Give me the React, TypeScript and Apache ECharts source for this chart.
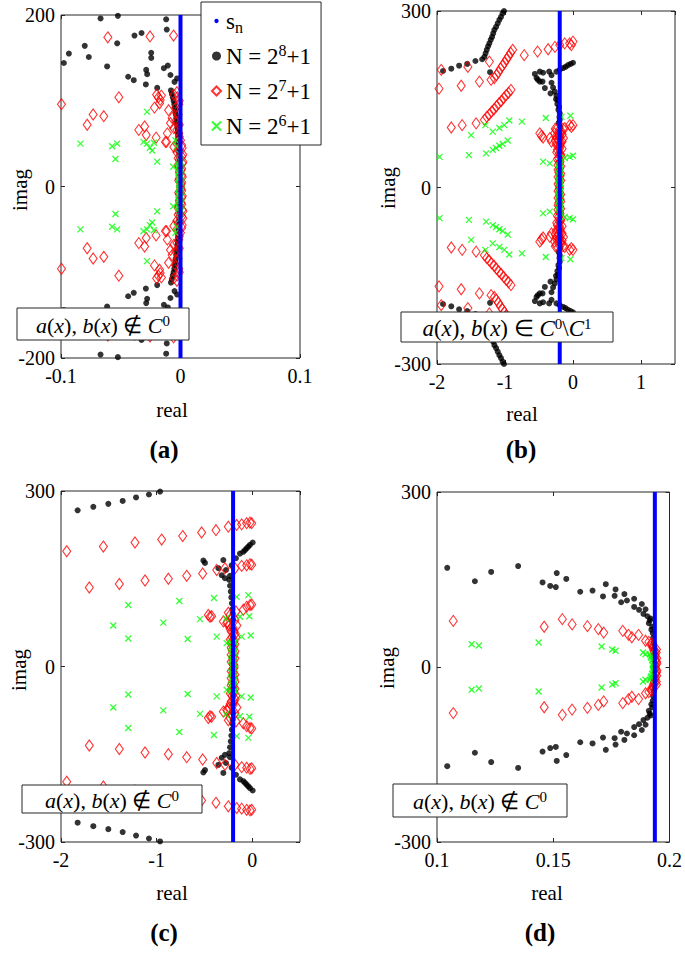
import React, { useEffect, useRef } from "react";
import * as echarts from "echarts";

const FONT = "Liberation Serif";

// ---------- axis values ----------
const xMin = [-0.1, -2, -2, 0.1];
const xMax = [0.1, 1.5, 0.5, 0.2];
const xStep = [0.1, 1, 1, 0.05];
const yMin = [-200, -300, -300, -300];
const yMax = [200, 300, 300, 300];
const yStep = [200, 300, 300, 300];
const panelLabels = ["(a)", "(b)", "(c)", "(d)"];
const seriesNames = ["s_n", "N8", "N7", "N6"];

// s_n : real part of the (dense, vertical) set of exact eigenvalues per panel
const snReal = [0, -0.195, -0.2, 0.1937];

// ---------- panel (a) ----------
const aBlack = [
  [-0.0669,196],[-0.0524,199],[-0.012,195],[-0.0115,183],[-0.0976,144],[-0.0934,155],[-0.0801,164],[-0.0767,151],[-0.053,167],[-0.0614,140],[-0.0438,128],[-0.0391,124],[-0.0385,176],[-0.0326,179],[-0.0287,136],[-0.0279,131],[-0.0245,156],[-0.0245,150],[-0.029,119],[-0.0139,138],[-0.0106,141],[-0.0084,130],[-0.0195,115],[-0.005,122],[-0.0028,126],
  [-0.008,112],[-0.0072,108],[-0.0065,104],[-0.0058,100],[-0.0052,96],[-0.0047,92],[-0.0043,88],[-0.0039,84],[-0.0035,80],[-0.0032,76],[-0.0029,72],[-0.0026,68],[-0.0023,64],[-0.0021,60],[-0.0019,56],[-0.0017,52],[-0.0015,48],[-0.0013,44],[-0.0012,40],[-0.001,36],[-0.0009,32],[-0.0008,28],[-0.0007,24],[-0.0006,20],
  [-0.0669,-196],[-0.0524,-199],[-0.012,-195],[-0.0115,-183],[-0.0976,-144],[-0.0934,-155],[-0.0801,-164],[-0.0767,-151],[-0.053,-167],[-0.0614,-140],[-0.0438,-128],[-0.0391,-124],[-0.0385,-176],[-0.0326,-179],[-0.0287,-136],[-0.0279,-131],[-0.0245,-156],[-0.0245,-150],[-0.029,-119],[-0.0139,-138],[-0.0106,-141],[-0.0084,-130],[-0.0195,-115],[-0.005,-122],[-0.0028,-126],
  [-0.008,-112],[-0.0072,-108],[-0.0065,-104],[-0.0058,-100],[-0.0052,-96],[-0.0047,-92],[-0.0043,-88],[-0.0039,-84],[-0.0035,-80],[-0.0032,-76],[-0.0029,-72],[-0.0026,-68],[-0.0023,-64],[-0.0021,-60],[-0.0019,-56],[-0.0017,-52],[-0.0015,-48],[-0.0013,-44],[-0.0012,-40],[-0.001,-36],[-0.0009,-32],[-0.0008,-28],[-0.0007,-24],[-0.0006,-20],
];
const aRed = [
  [-0.0996,96],[-0.0608,174],[-0.0255,175],[-0.0058,176],[-0.0516,104],[-0.0781,72],[-0.0731,84],[-0.0642,82],[-0.0349,66],[-0.03,70],[-0.0287,60],[-0.0204,57],[-0.0126,52],[-0.0218,92],[-0.02,107],[-0.0185,104],[-0.017,101],[-0.016,106],[-0.0175,97],[-0.0056,107],[-0.0028,104],[-0.0014,96],[-0.0028,87],[-0.007,80],[-0.0084,74],[-0.01,89],[-0.011,62],[-0.0117,52],[-0.0056,46],[-0.0056,68],[-0.0014,62],[0,54],[0.0014,45],[-0.003,40],[0.002,37],[-0.002,33],[0.002,29],[-0.002,25],[0.001,21],[-0.001,17],[0.001,13],[-0.001,9],[0.001,5],[0,1],
  [-0.003,110],[-0.001,100],[-0.004,92],[-0.002,84],[-0.004,76],[-0.001,72],[-0.003,66],[-0.001,58],[-0.003,50],[0.001,48],[-0.002,43],[0.001,35],[-0.001,31],[0.0015,27],[-0.0015,23],[0.0005,19],[-0.0005,15],[0.0015,11],[-0.0015,7],[0.0005,3],
  [-0.0996,-96],[-0.0608,-174],[-0.0255,-175],[-0.0058,-176],[-0.0516,-104],[-0.0781,-72],[-0.0731,-84],[-0.0642,-82],[-0.0349,-66],[-0.03,-70],[-0.0287,-60],[-0.0204,-57],[-0.0126,-52],[-0.0218,-92],[-0.02,-107],[-0.0185,-104],[-0.017,-101],[-0.016,-106],[-0.0175,-97],[-0.0056,-107],[-0.0028,-104],[-0.0014,-96],[-0.0028,-87],[-0.007,-80],[-0.0084,-74],[-0.01,-89],[-0.011,-62],[-0.0117,-52],[-0.0056,-46],[-0.0056,-68],[-0.0014,-62],[0,-54],[0.0014,-45],[-0.003,-40],[0.002,-37],[-0.002,-33],[0.002,-29],[-0.002,-25],[0.001,-21],[-0.001,-17],[0.001,-13],[-0.001,-9],[0.001,-5],[0,-1],
  [-0.003,-110],[-0.001,-100],[-0.004,-92],[-0.002,-84],[-0.004,-76],[-0.001,-72],[-0.003,-66],[-0.001,-58],[-0.003,-50],[0.001,-48],[-0.002,-43],[0.001,-35],[-0.001,-31],[0.0015,-27],[-0.0015,-23],[0.0005,-19],[-0.0005,-15],[0.0015,-11],[-0.0015,-7],[0.0005,-3],
];
const aGreen = [
  [-0.0837,50],[-0.0572,47],[-0.053,50],[-0.0544,32],[-0.028,87],[-0.031,52],[-0.028,50],[-0.0223,51],[-0.0257,45],[-0.0237,42],[-0.0195,29],[-0.0061,23],[-0.0042,54],[-0.003,47],[-0.0005,38],[-0.0005,30],[-0.0012,26],[-0.0002,22],[-0.0012,18],[-0.0002,14],[-0.0012,10],[-0.0002,6],[-0.0012,2],
  [0.0008,28],[-0.0018,24],[0.0008,20],[-0.0018,16],[0.0008,12],[-0.0018,8],[0.0008,4],[-0.0008,0],
  [-0.0837,-50],[-0.0572,-47],[-0.053,-50],[-0.0544,-32],[-0.028,-87],[-0.031,-52],[-0.028,-50],[-0.0223,-51],[-0.0257,-45],[-0.0237,-42],[-0.0195,-29],[-0.0061,-23],[-0.0042,-54],[-0.003,-47],[-0.0005,-38],[-0.0005,-30],[-0.0012,-26],[-0.0002,-22],[-0.0012,-18],[-0.0002,-14],[-0.0012,-10],[-0.0002,-6],[-0.0012,-2],
  [0.0008,-28],[-0.0018,-24],[0.0008,-20],[-0.0018,-16],[0.0008,-12],[-0.0018,-8],[0.0008,-4],
];

// ---------- panel (b) ----------
const bBlack = [
  [-1.912,198],[-1.79,202],[-1.675,207],[-1.556,210],[-1.435,215],[-1.336,218],
  [-1.303,222],[-1.285,228],[-1.268,234],[-1.249,240],[-1.23,245],[-1.21,251],[-1.19,256],[-1.173,262],[-1.156,268],[-1.131,273],[-1.107,279],[-1.083,285],[-1.059,290],[-1.035,296],[-1.015,300],
  [-1.22,196],
  [-0.561,193],[-0.488,197],[-0.44,195],[-0.536,186],[-0.488,180],[-0.516,183],[-0.448,180],[-0.414,169],[-0.351,197],[-0.316,191],[-0.316,178],[-0.293,170],[-0.331,160],[-0.268,163],[-0.243,156],[-0.22,148],[-0.205,137],[-0.195,126],[-0.195,115],[-0.185,103],[-0.243,197],[-0.195,200],[-0.146,203],[-0.11,205],[-0.073,208],[-0.035,210],[0,212],
  [-0.25,150],[-0.23,142],[-0.215,132],[-0.2,120],[-0.21,110],[-0.2,95],[-0.19,85],[-0.2,75],[-0.2,60],[-0.2,45],[-0.2,30],[-0.2,15],[-0.2,0],
  [-1.912,-198],[-1.79,-202],[-1.675,-207],[-1.556,-210],[-1.435,-215],[-1.336,-218],
  [-1.303,-222],[-1.285,-228],[-1.268,-234],[-1.249,-240],[-1.23,-245],[-1.21,-251],[-1.19,-256],[-1.173,-262],[-1.156,-268],[-1.131,-273],[-1.107,-279],[-1.083,-285],[-1.059,-290],[-1.035,-296],[-1.015,-300],
  [-1.22,-196],
  [-0.561,-193],[-0.488,-197],[-0.44,-195],[-0.536,-186],[-0.488,-180],[-0.516,-183],[-0.448,-180],[-0.414,-169],[-0.351,-197],[-0.316,-191],[-0.316,-178],[-0.293,-170],[-0.331,-160],[-0.268,-163],[-0.243,-156],[-0.22,-148],[-0.205,-137],[-0.195,-126],[-0.195,-115],[-0.185,-103],[-0.243,-197],[-0.195,-200],[-0.146,-203],[-0.11,-205],[-0.073,-208],[-0.035,-210],[0,-212],
  [-0.25,-150],[-0.23,-142],[-0.215,-132],[-0.2,-120],[-0.21,-110],[-0.2,-95],[-0.19,-85],[-0.2,-75],[-0.2,-60],[-0.2,-45],[-0.2,-30],[-0.2,-15],
];
const bRed = [
  [-1.937,200],[-1.546,205],[-1.23,214],
  [-1.157,186],[-1.127,191],[-1.097,196],[-1.067,202],[-1.037,207],[-1.007,212],[-0.977,218],[-0.947,223],[-0.917,229],[-0.887,234],
  [-0.717,225],[-0.521,231],[-0.366,235],[-0.265,239],[-0.195,242],[-0.122,245],[-0.049,245],[0,248],[-0.024,242],
  [-1.97,168],[-1.644,173],[-1.376,180],[-1.205,183],
  [-1.303,115],[-1.268,120],[-1.232,124],[-1.197,129],[-1.161,133],[-1.126,138],[-1.09,143],[-1.055,147],[-1.019,152],[-0.984,157],[-0.948,161],[-0.912,166],
  [-1.79,102],[-1.63,106],[-1.425,109],
  [-0.488,92],[-0.463,88],[-0.44,85],[-0.341,84],[-0.317,78],[-0.049,106],[-0.024,103],[0,106],[-0.122,101],
  [-0.25,98],[-0.17,95],[-0.23,90],[-0.19,86],[-0.26,80],[-0.16,78],[-0.22,72],[-0.2,66],[-0.24,60],[-0.18,56],[-0.21,50],[-0.19,44],[-0.22,38],[-0.2,32],[-0.21,26],[-0.19,20],[-0.2,14],[-0.2,8],[-0.2,2],
  [-0.26,100],[-0.15,100],[-0.21,96],[-0.27,92],[-0.16,90],[-0.2,88],[-0.24,84],[-0.14,84],[-0.21,80],[-0.18,76],[-0.25,74],[-0.19,70],[-0.16,66],[-0.23,64],[-0.2,58],[-0.17,52],[-0.23,48],[-0.2,42],[-0.18,36],[-0.22,30],[-0.18,24],[-0.22,18],[-0.18,12],[-0.22,6],
  [-1.937,-200],[-1.546,-205],[-1.23,-214],
  [-1.157,-186],[-1.127,-191],[-1.097,-196],[-1.067,-202],[-1.037,-207],[-1.007,-212],[-0.977,-218],[-0.947,-223],[-0.917,-229],[-0.887,-234],
  [-0.717,-225],[-0.521,-231],[-0.366,-235],[-0.265,-239],[-0.195,-242],[-0.122,-245],[-0.049,-245],[0,-248],[-0.024,-242],
  [-1.97,-168],[-1.644,-173],[-1.376,-180],[-1.205,-183],
  [-1.303,-115],[-1.268,-120],[-1.232,-124],[-1.197,-129],[-1.161,-133],[-1.126,-138],[-1.09,-143],[-1.055,-147],[-1.019,-152],[-0.984,-157],[-0.948,-161],[-0.912,-166],
  [-1.79,-102],[-1.63,-106],[-1.425,-109],
  [-0.488,-92],[-0.463,-88],[-0.44,-85],[-0.341,-84],[-0.317,-78],[-0.049,-106],[-0.024,-103],[0,-106],[-0.122,-101],
  [-0.25,-98],[-0.17,-95],[-0.23,-90],[-0.19,-86],[-0.26,-80],[-0.16,-78],[-0.22,-72],[-0.2,-66],[-0.24,-60],[-0.18,-56],[-0.21,-50],[-0.19,-44],[-0.22,-38],[-0.2,-32],[-0.21,-26],[-0.19,-20],[-0.2,-14],[-0.2,-8],[-0.2,-2],
  [-0.26,-100],[-0.15,-100],[-0.21,-96],[-0.27,-92],[-0.16,-90],[-0.2,-88],[-0.24,-84],[-0.14,-84],[-0.21,-80],[-0.18,-76],[-0.25,-74],[-0.19,-70],[-0.16,-66],[-0.23,-64],[-0.2,-58],[-0.17,-52],[-0.23,-48],[-0.2,-42],[-0.18,-36],[-0.22,-30],[-0.18,-24],[-0.22,-18],[-0.18,-12],[-0.22,-6],
];
const bGreen = [
  [-1.962,52],[-1.531,55],[-1.498,89],[-1.288,106],[-1.278,58],[-1.18,64],[-1.132,67],[-1.083,71],[-1.034,74],[-0.96,80],[-1.18,95],[-1.083,101],[-1.01,106],[-0.937,114],[-0.751,112],[-0.4,118],[-0.17,120],[-0.038,122],[-0.44,44],[-0.341,41],[-0.195,44],[-0.122,50],[-0.049,52],[0,54],
  [-0.2,38],[-0.21,32],[-0.19,26],[-0.2,20],[-0.21,14],[-0.19,8],[-0.2,2],
  [-0.18,40],[-0.22,36],[-0.18,30],[-0.22,24],[-0.18,18],[-0.22,12],[-0.18,6],[-0.2,0],
  [-1.962,-52],[-1.531,-55],[-1.498,-89],[-1.288,-106],[-1.278,-58],[-1.18,-64],[-1.132,-67],[-1.083,-71],[-1.034,-74],[-0.96,-80],[-1.18,-95],[-1.083,-101],[-1.01,-106],[-0.937,-114],[-0.751,-112],[-0.4,-118],[-0.17,-120],[-0.038,-122],[-0.44,-44],[-0.341,-41],[-0.195,-44],[-0.122,-50],[-0.049,-52],[0,-54],
  [-0.2,-38],[-0.21,-32],[-0.19,-26],[-0.2,-20],[-0.21,-14],[-0.19,-8],[-0.2,-2],
  [-0.18,-40],[-0.22,-36],[-0.18,-30],[-0.22,-24],[-0.18,-18],[-0.22,-12],[-0.18,-6],
];

// ---------- panel (c) ----------
const cBlack = [
  [-1.826,267],[-1.662,273],[-1.505,278],[-1.355,283],[-1.215,289],[-1.08,294],[-0.964,299],
  [-0.511,181],[-0.494,177],[-0.354,168],[-0.302,182],[-0.17,185],[-0.215,173],[-0.274,165],[-0.319,156],[-0.285,151],[-0.232,155],[-0.128,193],[-0.093,196],[-0.058,202],[-0.023,208],[0.005,212],[-0.04,205],[-0.075,199],
  [-0.24,148],[-0.232,138],[-0.224,128],[-0.218,118],[-0.212,108],[-0.206,98],[-0.204,91],[-0.2,80],[-0.2,65],[-0.2,50],[-0.2,35],[-0.2,20],[-0.2,5],
  [-1.826,-267],[-1.662,-273],[-1.505,-278],[-1.355,-283],[-1.215,-289],[-1.08,-294],[-0.964,-299],
  [-0.511,-181],[-0.494,-177],[-0.354,-168],[-0.302,-182],[-0.17,-185],[-0.215,-173],[-0.274,-165],[-0.319,-156],[-0.285,-151],[-0.232,-155],[-0.128,-193],[-0.093,-196],[-0.058,-202],[-0.023,-208],[0.005,-212],[-0.04,-205],[-0.075,-199],
  [-0.24,-148],[-0.232,-138],[-0.224,-128],[-0.218,-118],[-0.212,-108],[-0.206,-98],[-0.204,-91],[-0.2,-80],[-0.2,-65],[-0.2,-50],[-0.2,-35],[-0.2,-20],[-0.2,-5],
];
const cRed = [
  [-1.94,197],[-1.557,205],[-1.226,212],[-0.947,217],[-0.727,223],[-0.529,229],[-0.379,233],[-0.25,239],[-0.162,242],[-0.11,243],[-0.058,245],[-0.023,246],[-0.005,245],
  [-1.704,135],[-1.39,141],[-1.121,147],[-0.877,150],[-0.685,155],[-0.518,159],[-0.371,165],[-0.285,168],[-0.18,168],[-0.11,172],[-0.058,173],[-0.023,175],[-0.005,174],
  [-0.459,88],[-0.441,85],[-0.424,86],[-0.302,77],[-0.267,74],[-0.232,88],[-0.093,97],[-0.058,102],[-0.023,105],[-0.005,106],
  [-0.24,70],[-0.2,66],[-0.22,60],[-0.18,56],[-0.21,50],[-0.19,44],[-0.22,40],[-0.2,34],[-0.21,28],[-0.19,22],[-0.2,16],[-0.2,10],[-0.2,4],
  [-0.25,92],[-0.17,94],[-0.22,82],[-0.18,80],[-0.26,76],[-0.16,70],[-0.23,64],[-0.19,60],[-0.17,50],[-0.23,46],[-0.18,38],[-0.22,32],[-0.18,26],[-0.22,20],[-0.18,14],[-0.22,8],[-0.19,2],
  [-1.94,-197],[-1.557,-205],[-1.226,-212],[-0.947,-217],[-0.727,-223],[-0.529,-229],[-0.379,-233],[-0.25,-239],[-0.162,-242],[-0.11,-243],[-0.058,-245],[-0.023,-246],[-0.005,-245],
  [-1.704,-135],[-1.39,-141],[-1.121,-147],[-0.877,-150],[-0.685,-155],[-0.518,-159],[-0.371,-165],[-0.285,-168],[-0.18,-168],[-0.11,-172],[-0.058,-173],[-0.023,-175],[-0.005,-174],
  [-0.459,-88],[-0.441,-85],[-0.424,-86],[-0.302,-77],[-0.267,-74],[-0.232,-88],[-0.093,-97],[-0.058,-102],[-0.023,-105],[-0.005,-106],
  [-0.24,-70],[-0.2,-66],[-0.22,-60],[-0.18,-56],[-0.21,-50],[-0.19,-44],[-0.22,-40],[-0.2,-34],[-0.21,-28],[-0.19,-22],[-0.2,-16],[-0.2,-10],[-0.2,-4],
  [-0.25,-92],[-0.17,-94],[-0.22,-82],[-0.18,-80],[-0.26,-76],[-0.16,-70],[-0.23,-64],[-0.19,-60],[-0.17,-50],[-0.23,-46],[-0.18,-38],[-0.22,-32],[-0.18,-26],[-0.22,-20],[-0.18,-14],[-0.22,-8],[-0.19,-2],
];
const cGreen = [
  [-1.296,105],[-1.453,70],[-1.296,48],[-0.93,75],[-0.762,112],[-0.675,47],[-0.546,81],[-0.4,117],[-0.371,51],[-0.274,82],[-0.162,119],[-0.128,85],[-0.11,51],[-0.041,122],[-0.03,86],[-0.016,53],[-0.267,40],[-0.232,42],[-0.18,42],
  [-0.2,36],[-0.21,30],[-0.19,24],[-0.2,18],[-0.2,12],[-0.2,6],
  [-0.18,40],[-0.22,34],[-0.18,28],[-0.22,22],[-0.18,16],[-0.22,10],[-0.18,4],
  [-1.296,-105],[-1.453,-70],[-1.296,-48],[-0.93,-75],[-0.762,-112],[-0.675,-47],[-0.546,-81],[-0.4,-117],[-0.371,-51],[-0.274,-82],[-0.162,-119],[-0.128,-85],[-0.11,-51],[-0.041,-122],[-0.03,-86],[-0.016,-53],[-0.267,-40],[-0.232,-42],[-0.18,-42],
  [-0.2,-36],[-0.21,-30],[-0.19,-24],[-0.2,-18],[-0.2,-12],[-0.2,-6],[-0.2,0],
  [-0.18,-40],[-0.22,-34],[-0.18,-28],[-0.22,-22],[-0.18,-16],[-0.22,-10],[-0.18,-4],
];

// ---------- panel (d) ----------
const dBlack = [
  [0.1044,170],[0.1163,147],[0.1233,163],[0.1349,173],[0.1454,145],[0.1487,139],[0.1511,137],[0.1515,161],[0.1556,151],[0.1616,129],[0.1669,131],[0.1726,142],[0.1714,121],[0.1768,133],[0.1764,122],[0.1792,111],[0.1806,125],[0.1817,114],[0.1848,117],[0.1848,103],[0.1881,108],[0.1869,98],[0.1897,99],[0.1888,91],[0.1905,87],[0.1919,83],[0.1911,75],[0.1915,80],[0.1926,69],[0.1922,64],[0.1928,58],[0.193,50],[0.1932,41],[0.1934,32],[0.1935,23],[0.1936,14],[0.1937,6],
  [0.1044,-170],[0.1163,-147],[0.1233,-163],[0.1349,-173],[0.1454,-145],[0.1487,-139],[0.1511,-137],[0.1515,-161],[0.1556,-151],[0.1616,-129],[0.1669,-131],[0.1726,-142],[0.1714,-121],[0.1768,-133],[0.1764,-122],[0.1792,-111],[0.1806,-125],[0.1817,-114],[0.1848,-117],[0.1848,-103],[0.1881,-108],[0.1869,-98],[0.1897,-99],[0.1888,-91],[0.1905,-87],[0.1919,-83],[0.1911,-75],[0.1915,-80],[0.1926,-69],[0.1922,-64],[0.1928,-58],[0.193,-50],[0.1932,-41],[0.1934,-32],[0.1935,-23],[0.1936,-14],[0.1937,-6],
];
const dRed = [
  [0.107,79],[0.1461,69],[0.1539,82],[0.1581,73],[0.1647,70],[0.1694,65],[0.1717,59],[0.1799,62],[0.1824,55],[0.1838,51],[0.1867,55],[0.1897,45],[0.1911,43],[0.1923,41],[0.1928,35],[0.1932,29],[0.1937,21],[0.194,12],[0.194,3],[0.1943,25],[0.1945,15],[0.1946,6],
  [0.1925,38],[0.193,32],[0.1944,30],[0.1935,26],[0.1938,18],[0.1944,9],[0.1938,0],
  [0.107,-79],[0.1461,-69],[0.1539,-82],[0.1581,-73],[0.1647,-70],[0.1694,-65],[0.1717,-59],[0.1799,-62],[0.1824,-55],[0.1838,-51],[0.1867,-55],[0.1897,-45],[0.1911,-43],[0.1923,-41],[0.1928,-35],[0.1932,-29],[0.1937,-21],[0.194,-12],[0.194,-3],[0.1943,-25],[0.1945,-15],[0.1946,-6],
  [0.1925,-38],[0.193,-32],[0.1944,-30],[0.1935,-26],[0.1938,-18],[0.1944,-9],
];
const dGreen = [
  [0.1149,39],[0.118,37],[0.1437,42],[0.1708,35],[0.1754,30],[0.1768,28],[0.1886,25],[0.1897,22],[0.1919,18],[0.1925,12],[0.193,6],[0.1932,1],
  [0.1915,22],[0.1922,16],[0.1935,8],[0.1928,3],
  [0.1149,-39],[0.118,-37],[0.1437,-42],[0.1708,-35],[0.1754,-30],[0.1768,-28],[0.1886,-25],[0.1897,-22],[0.1919,-18],[0.1925,-12],[0.193,-6],[0.1932,-1],
  [0.1915,-22],[0.1922,-16],[0.1935,-8],[0.1928,-3],
];

const blackSets = [aBlack, bBlack, cBlack, dBlack];
const redSets = [aRed, bRed, cRed, dRed];
const greenSets = [aGreen, bGreen, cGreen, dGreen];

// ---------- layout (pixels) ----------
const GRIDS = [
  { left: 61, top: 15, width: 239, height: 343 },
  { left: 437, top: 11, width: 238, height: 353 },
  { left: 61, top: 491, width: 239, height: 351 },
  { left: 437, top: 492, width: 237, height: 350 },
];
const REAL_POS = [[172, 410], [522, 414], [172, 893], [547, 893]];
const IMAG_POS = [[20, 190], [388, 188], [19, 670], [387, 668]];
const LABEL_POS = [[164, 449], [521, 449], [164, 932], [540, 932]];
const BOX = [[17, 308, 172, 32], [401, 312, 212, 30], [22, 785, 180, 28], [393, 784, 174, 33]];

const NOT_C0 = "{i|a}{r|(}{i|x}{r|),} {i|b}{r|(}{i|x}{r|)} {r|\u2209} {i|C}{s|0}";
const C0_C1 = "{i|a}{r|(}{i|x}{r|),} {i|b}{r|(}{i|x}{r|)} {r|\u2208} {i|C}{s|0}{r|\\}{i|C}{s|1}";
const BOX_TEXT = [NOT_C0, C0_C1, NOT_C0, NOT_C0];
const BOX_FONT = [22, 23, 22, 22];

const XPATH = "path://M0,0L10,10M10,0L0,10";
const SMALL_DOT = "path://M0,0L0,0M10,10L10,10M2.6,5A2.4,2.4,0,1,0,7.4,5A2.4,2.4,0,1,0,2.6,5Z";
const AX = "#262626";

export default function App() {
  const ref = useRef<HTMLDivElement>(null);
  useEffect(() => {
    if (!ref.current) return;
    const chart = echarts.init(ref.current, undefined, { renderer: "svg" });
    const xAxis: any[] = [];
    const yAxis: any[] = [];
    const series: any[] = [];
    const graphic: any[] = [];
    GRIDS.forEach((g, i) => {
      const tick = { inside: true, length: 4, lineStyle: { color: AX } };
      const line = { show: false, onZero: false };
      const lbl = { fontFamily: FONT, fontSize: 20, color: "#000" };
      const xLast = Math.abs(Math.round((xMax[i] - xMin[i]) / xStep[i]) * xStep[i] - (xMax[i] - xMin[i])) < 1e-9;
      xAxis.push({
        type: "value", gridIndex: i, min: xMin[i], max: xMax[i], interval: xStep[i], position: "bottom",
        axisLine: line, axisTick: tick, splitLine: { show: false },
        axisLabel: { ...lbl, margin: 8, showMaxLabel: xLast, showMinLabel: true },
      });
      xAxis.push({
        type: "value", gridIndex: i, min: xMin[i], max: xMax[i], interval: xStep[i], position: "top",
        axisLine: line, axisTick: tick, splitLine: { show: false }, axisLabel: { show: false },
      });
      yAxis.push({
        type: "value", gridIndex: i, min: yMin[i], max: yMax[i], interval: yStep[i], position: "left",
        axisLine: line, axisTick: tick, splitLine: { show: false },
        axisLabel: { ...lbl, margin: 6, showMaxLabel: true, showMinLabel: true },
      });
      yAxis.push({
        type: "value", gridIndex: i, min: yMin[i], max: yMax[i], interval: yStep[i], position: "right",
        axisLine: line, axisTick: tick, splitLine: { show: false }, axisLabel: { show: false },
      });
      const xi = 2 * i;
      series.push({
        type: "line", name: seriesNames[0], xAxisIndex: xi, yAxisIndex: xi,
        data: [[snReal[i], yMin[i]], [snReal[i], yMax[i]]],
        symbol: "none", lineStyle: { color: "#0000ff", width: 4 }, itemStyle: { color: "#0000ff" }, silent: true,
      });
      series.push({
        type: "scatter", name: seriesNames[1], xAxisIndex: xi, yAxisIndex: xi, data: blackSets[i],
        symbol: "circle", symbolSize: 6, itemStyle: { color: "#000000" }, silent: true,
      });
      series.push({
        type: "scatter", name: seriesNames[2], xAxisIndex: xi, yAxisIndex: xi, data: redSets[i],
        symbol: "diamond", symbolSize: [8, 11],
        itemStyle: { color: "rgba(255,255,255,0)", borderColor: "#ff0000", borderWidth: 1.1 }, silent: true,
      });
      series.push({
        type: "scatter", name: seriesNames[3], xAxisIndex: xi, yAxisIndex: xi, data: greenSets[i],
        symbol: XPATH, symbolSize: 6,
        itemStyle: { color: "rgba(0,0,0,0)", borderColor: "#00ff00", borderWidth: 1.3 }, silent: true,
      });

      graphic.push({
        type: "text", x: REAL_POS[i][0], y: REAL_POS[i][1], z: 50,
        style: { text: "real", fontFamily: FONT, fontSize: 21, fill: "#000", align: "center", verticalAlign: "middle", textAlign: "center", textVerticalAlign: "middle" },
      });
      graphic.push({
        type: "text", x: IMAG_POS[i][0], y: IMAG_POS[i][1], rotation: Math.PI / 2, z: 50,
        style: { text: "imag", fontFamily: FONT, fontSize: 21, fill: "#000", align: "center", verticalAlign: "middle", textAlign: "center", textVerticalAlign: "middle" },
      });
      graphic.push({
        type: "text", x: LABEL_POS[i][0], y: LABEL_POS[i][1], z: 50,
        style: { text: panelLabels[i], fontFamily: FONT, fontSize: 25, fontWeight: "bold", fill: "#000", align: "center", verticalAlign: "middle", textAlign: "center", textVerticalAlign: "middle" },
      });
      const [bx, by, bw, bh] = BOX[i];
      const fs = BOX_FONT[i];
      graphic.push({
        type: "rect", z: 100, shape: { x: bx, y: by, width: bw, height: bh },
        style: { fill: "#ffffff", stroke: AX, lineWidth: 1 },
      });
      graphic.push({
        type: "text", z: 101, x: bx + bw / 2, y: by + bh / 2 + 1,
        style: {
          text: BOX_TEXT[i], fontFamily: FONT, fontSize: fs, fill: "#000",
          align: "center", verticalAlign: "middle", textAlign: "center", textVerticalAlign: "middle",
          rich: {
            i: { fontFamily: FONT, fontStyle: "italic", fontSize: fs, fill: "#000", lineHeight: 24, verticalAlign: "middle" },
            r: { fontFamily: FONT, fontSize: fs, fill: "#000", lineHeight: 24, verticalAlign: "middle" },
            s: { fontFamily: FONT, fontSize: 15, fill: "#000", lineHeight: 14, verticalAlign: "top" },
          },
        },
      });
    });

    const legendText: Record<string, string> = {
      s_n: "s{sub|n}",
      N8: "N = 2{sup|8}+1",
      N7: "N = 2{sup|7}+1",
      N6: "N = 2{sup|6}+1",
    };

    chart.setOption({
      animation: false,
      backgroundColor: "#ffffff",
      grid: GRIDS.map((g) => ({ ...g, show: true, borderColor: AX, borderWidth: 1, backgroundColor: "transparent", containLabel: false })),
      xAxis,
      yAxis,
      series,
      graphic,
      legend: {
        orient: "vertical", left: 201, top: 2, z: 20,
        padding: [5, 10, 5, 10], itemGap: 7, itemWidth: 9, itemHeight: 9, itemTextGap: 7,
        backgroundColor: "#ffffff", borderColor: AX, borderWidth: 1, borderRadius: 0,
        selectedMode: false,
        data: [
          { name: "s_n", icon: SMALL_DOT, itemStyle: { color: "#0000ff" } },
          { name: "N8", icon: "circle" },
          { name: "N7" },
          { name: "N6" },
        ],
        formatter: (name: string) => legendText[name] || name,
        textStyle: {
          fontFamily: FONT, fontSize: 23, color: "#000", lineHeight: 28,
          rich: {
            sup: { fontFamily: FONT, fontSize: 16, color: "#000", lineHeight: 14, verticalAlign: "top" },
            sub: { fontFamily: FONT, fontSize: 16, color: "#000", lineHeight: 14, verticalAlign: "bottom" },
          },
        },
      },
    });
    return () => chart.dispose();
  }, []);
  return (
    <div
      ref={ref}
      style={{ position: "absolute", left: 0, top: 0, width: 685, height: 957, background: "#fff" }}
    />
  );
}
